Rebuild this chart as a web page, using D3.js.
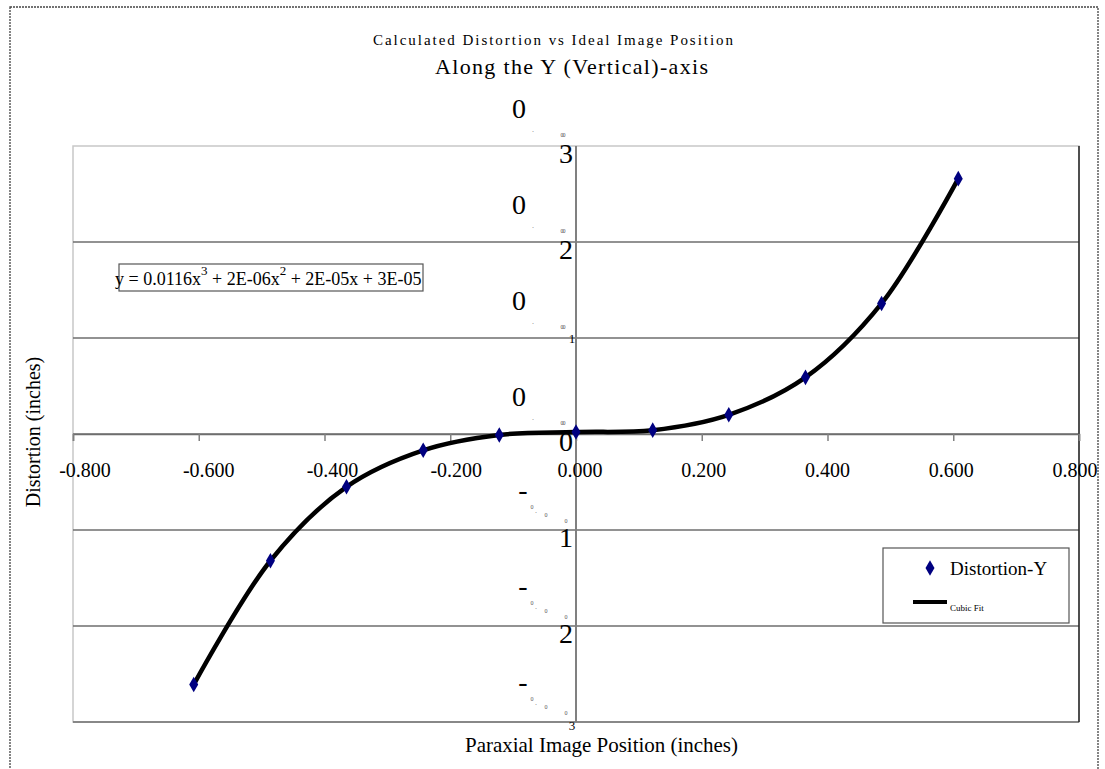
<!DOCTYPE html>
<html>
<head>
<meta charset="utf-8">
<script src="https://cdn.jsdelivr.net/npm/d3@7"></script>
<style>
  body { margin: 0; background: #fff; }
  text { font-family: "Liberation Serif", "Times New Roman", serif; }
</style>
</head>
<body>
<svg id="chart"></svg>
<script>
// x positions of the measurements (inches)
const positions = [-0.608, -0.486, -0.365, -0.243, -0.122, 0.000, 0.122, 0.243, 0.365, 0.486, 0.608];
// measured distortion along Y (inches)
const distortionY = [-0.00261, -0.00132, -0.00055, -0.00017, -0.00001, 0.00002, 0.00004, 0.00020, 0.00059, 0.00136, 0.00266];

const xTicks = [-0.8, -0.6, -0.4, -0.2, 0, 0.2, 0.4, 0.6, 0.8];
const yTicks = [0.003, 0.002, 0.001, 0, -0.001, -0.002, -0.003];

const title = 'Calculated Distortion vs Ideal Image Position';
const subtitle = 'Along the Y (Vertical)-axis';
const xTitle = 'Paraxial Image Position (inches)';
const yTitle = 'Distortion (inches)';

const W = 1105, H = 769;
const svg = d3.select('#chart').attr('width', W).attr('height', H);

// outer frame
svg.append('rect')
    .attr('x', 10).attr('y', 7)
    .attr('width', 1088).attr('height', 800)
    .attr('fill', 'none')
    .attr('stroke', '#444')
    .attr('stroke-width', 1.3)
    .attr('stroke-dasharray', '2,1');

const x = d3.scaleLinear().domain([-0.8, 0.8]).range([73, 1079]);
const y = d3.scaleLinear().domain([-0.003, 0.003]).range([722, 146]);
// labels under the axis sit on a slightly tighter spacing
const xLab = d3.scaleLinear().domain([-0.8, 0.8]).range([85, 1075]);

// plot area
svg.append('rect')
    .attr('x', x(-0.8)).attr('y', y(0.003))
    .attr('width', x(0.8) - x(-0.8)).attr('height', y(-0.003) - y(0.003))
    .attr('fill', 'none').attr('stroke', '#c8c8c8').attr('stroke-width', 1.5);

// gridlines
svg.append('g').selectAll('line')
    .data(yTicks.filter(d => d !== 0.003))
    .join('line')
    .attr('x1', x(-0.8)).attr('x2', x(0.8))
    .attr('y1', d => y(d)).attr('y2', d => y(d))
    .attr('stroke', '#6e6e6e').attr('stroke-width', 1.5);

svg.append('line')
    .attr('x1', x(0.8)).attr('x2', x(0.8))
    .attr('y1', y(0.003)).attr('y2', y(-0.003))
    .attr('stroke', '#222').attr('stroke-width', 1.5);

// y axis through x = 0
svg.append('line')
    .attr('x1', x(0)).attr('x2', x(0))
    .attr('y1', y(0.003)).attr('y2', y(-0.003))
    .attr('stroke', '#808080').attr('stroke-width', 2);

// x axis through y = 0
const xAxis = svg.append('g')
    .attr('transform', 'translate(0,' + y(0) + ')')
    .call(d3.axisBottom(x).tickValues(xTicks).tickSize(7).tickFormat(''));
xAxis.select('.domain').attr('stroke', '#6e6e6e').attr('stroke-width', 1.5);
xAxis.selectAll('.tick line').attr('stroke', '#808080').attr('stroke-width', 1.5);

svg.append('g').selectAll('text')
    .data(xTicks)
    .join('text')
    .attr('x', d => xLab(d))
    .attr('y', y(0) + 43)
    .attr('text-anchor', 'middle')
    .attr('font-size', 20)
    .text(d => d3.format('.3f')(d).replace('−', '-'));

// y tick labels, broken up character by character like the original
const yLabels = yTicks.map(d => d3.format('.3f')(d).replace('−', '-'));
const yLabG = svg.append('g');
yTicks.forEach((t, i) => {
    const s = yLabels[i];
    const g = y(t);
    const chars = s.split('');
    const neg = chars[0] === '-';
    const n = chars.length;
    const smallPos = neg
        ? [[-44, -21], [-40, -17], [-30, -13], [-10, -7]]
        : [[-43, -14], [-14, -9], [-12, -9]];
    chars.forEach((c, k) => {
        let px, py, fs;
        if (k === 0) {
            px = neg ? -53 : -57;
            py = neg ? -31 : -28;
            fs = 28;
        } else if (k === n - 1) {
            const small = (t === 0.001 || t === -0.003);
            px = small ? -4 : -10;
            py = small ? (t > 0 ? 5 : 8) : 17;
            fs = small ? 13 : 28;
        } else {
            const p = smallPos[Math.min(k - 1, smallPos.length - 1)];
            px = p[0]; py = p[1]; fs = 6;
        }
        yLabG.append('text')
            .attr('x', x(0) + px)
            .attr('y', g + py)
            .attr('text-anchor', 'middle')
            .attr('font-size', fs)
            .attr('fill', fs < 10 ? '#555' : '#000')
            .text(c);
    });
});

// fitted curve drawn through the measured points
svg.append('path')
    .datum(positions.map((p, i) => [p, distortionY[i]]))
    .attr('fill', 'none')
    .attr('stroke', '#000')
    .attr('stroke-width', 4.5)
    .attr('d', d3.line()
        .x(d => x(d[0]))
        .y(d => y(d[1]))
        .curve(d3.curveCatmullRom.alpha(0.5)));

// markers
const diamond = d3.symbol().type(d3.symbolDiamond).size(70);
svg.append('g').selectAll('path')
    .data(positions)
    .join('path')
    .attr('transform', (d, i) => 'translate(' + x(d) + ',' + y(distortionY[i]) + ')')
    .attr('d', diamond)
    .attr('fill', '#000080');

// equation box
svg.append('rect')
    .attr('x', 119).attr('y', 264).attr('width', 304).attr('height', 27)
    .attr('fill', 'none').attr('stroke', '#555').attr('stroke-width', 1.2);
const eq = svg.append('text')
    .attr('x', 115).attr('y', 285)
    .attr('font-size', 18);
eq.append('tspan').text('y = 0.0116x');
eq.append('tspan').attr('dy', -10).attr('font-size', 13).text('3');
eq.append('tspan').attr('dy', 10).text(' + 2E-06x');
eq.append('tspan').attr('dy', -10).attr('font-size', 13).text('2');
eq.append('tspan').attr('dy', 10).text(' + 2E-05x + 3E-05');

// legend
svg.append('rect')
    .attr('x', 883).attr('y', 548).attr('width', 186).attr('height', 75)
    .attr('fill', '#fff').attr('stroke', '#555').attr('stroke-width', 1.2);
svg.append('path')
    .attr('transform', 'translate(930,568)')
    .attr('d', diamond)
    .attr('fill', '#000080');
svg.append('text')
    .attr('x', 950).attr('y', 575)
    .attr('font-size', 19)
    .text('Distortion-Y');
svg.append('line')
    .attr('x1', 913).attr('x2', 947).attr('y1', 602).attr('y2', 602)
    .attr('stroke', '#000').attr('stroke-width', 4);
svg.append('text')
    .attr('x', 950).attr('y', 611)
    .attr('font-size', 9)
    .text('Cubic Fit');

// titles
svg.append('text')
    .attr('x', 373).attr('y', 45)
    .attr('font-size', 15)
    .attr('textLength', 360).attr('lengthAdjust', 'spacing')
    .text(title);
svg.append('text')
    .attr('x', 435).attr('y', 74)
    .attr('font-size', 22)
    .attr('textLength', 273).attr('lengthAdjust', 'spacing')
    .text(subtitle);
svg.append('text')
    .attr('x', 465).attr('y', 752)
    .attr('font-size', 21)
    .attr('textLength', 273).attr('lengthAdjust', 'spacing')
    .text(xTitle);
svg.append('text')
    .attr('transform', 'translate(40,432) rotate(-90)')
    .attr('text-anchor', 'middle')
    .attr('font-size', 20)
    .text(yTitle);
</script>
</body>
</html>
